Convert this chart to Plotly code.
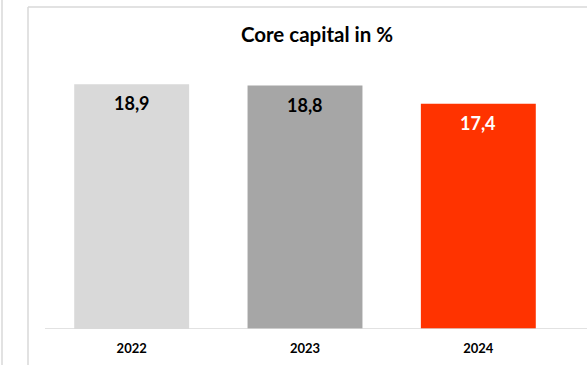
import plotly.graph_objects as go

# Core capital ratio by year
years = ["2022", "2023", "2024"]
core_capital = [18.9, 18.8, 17.4]
bar_colors = ["#d9d9d9", "#a6a6a6", "#ff3300"]
label_colors = ["#000000", "#000000", "#ffffff"]

W, H = 587, 365
M_L, M_R, M_T, M_B = 45, 22, 70, 36

fig = go.Figure(
    go.Bar(
        x=years,
        y=core_capital,
        marker=dict(color=bar_colors, line=dict(width=0)),
        width=0.663,
        hoverinfo="skip",
    )
)

# value labels just inside the top of each bar
for i, (v, c) in enumerate(zip(core_capital, label_colors)):
    fig.add_annotation(
        x=i, y=v, yshift=-19,
        text=f"{v:.1f}".replace(".", ","),
        showarrow=False,
        font=dict(family="Lato", size=18, color=c, weight="bold"),
        xanchor="center", yanchor="middle",
    )

plot_w = W - M_L - M_R
plot_h = H - M_T - M_B
grey = "#d9d9d9"
top_y = (H - M_B - 7) / plot_h

# frame lines around the chart panel and the category baseline
fig.add_shape(type="line", xref="paper", yref="paper",
              x0=(2 - M_L) / plot_w, x1=(2 - M_L) / plot_w,
              y0=-2, y1=3, line=dict(color=grey, width=1.5))
fig.add_shape(type="line", xref="paper", yref="paper",
              x0=(28 - M_L) / plot_w, x1=(28 - M_L) / plot_w,
              y0=-2, y1=top_y, line=dict(color=grey, width=1.5))
fig.add_shape(type="line", xref="paper", yref="paper",
              x0=(28 - M_L) / plot_w, x1=(W + 5 - M_L) / plot_w,
              y0=top_y, y1=top_y, line=dict(color=grey, width=1.5))
fig.add_shape(type="line", xref="paper", yref="y",
              x0=0, x1=(W + 5 - M_L) / plot_w, y0=0, y1=0,
              line=dict(color=grey, width=1.5))

fig.update_layout(
    width=W, height=H,
    margin=dict(l=M_L, r=M_R, t=M_T, b=M_B, autoexpand=False),
    paper_bgcolor="white", plot_bgcolor="white",
    showlegend=False,
    title=dict(
        text="Core capital in %",
        font=dict(family="Lato", size=20.5, color="#000000", weight="bold"),
        xref="container", x=317 / W, xanchor="center",
        yref="container", y=1 - 35 / H, yanchor="middle",
        automargin=False,
    ),
    xaxis=dict(
        type="category", automargin=False,
        range=[-0.5, 2.5], showgrid=False, zeroline=False, showline=False,
        ticks="outside", ticklen=7, tickcolor="rgba(0,0,0,0)",
        tickfont=dict(family="Lato", size=13, color="#000000", weight="bold"),
    ),
    yaxis=dict(range=[0, 20], visible=False, automargin=False),
)

fig.write_html("out.html")
